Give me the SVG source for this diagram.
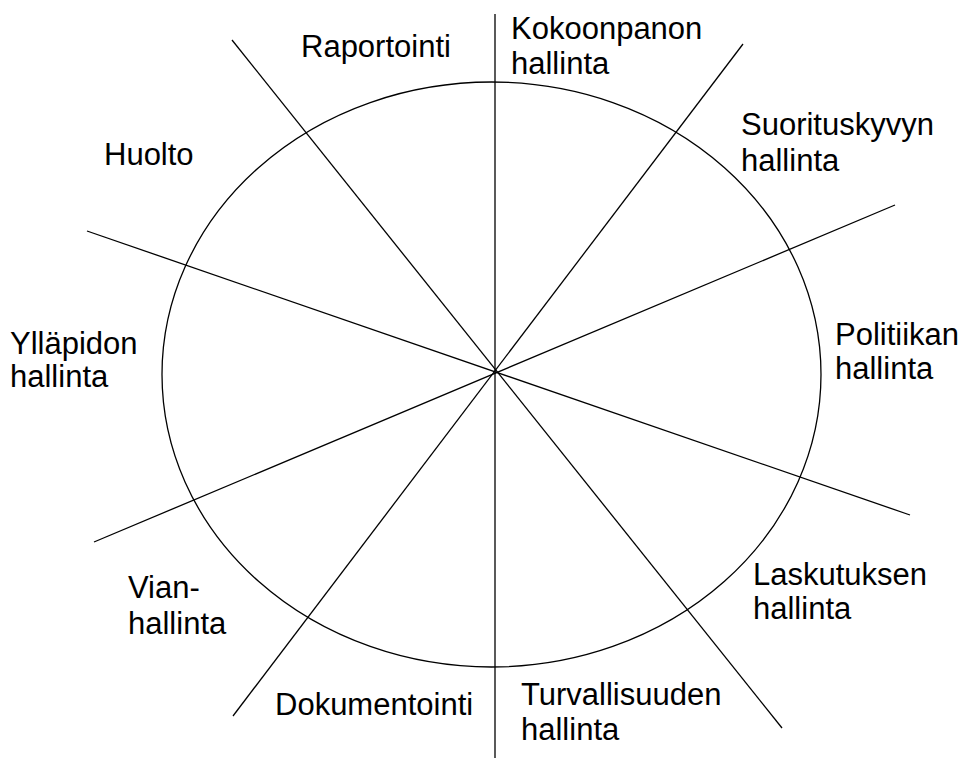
<svg xmlns="http://www.w3.org/2000/svg" width="966" height="758" viewBox="0 0 966 758">
<style>
.ln{stroke:#000;stroke-width:1.3;fill:none}
.t{font-family:"Liberation Sans",Arial,sans-serif;font-size:31px;fill:#000}
</style>
<rect width="966" height="758" fill="#fff"/>
<g id="connectors">
<ellipse id="circle" class="ln" cx="491.5" cy="374.5" rx="329.5" ry="292.5"/>
<line class="ln" x1="495" y1="14" x2="495" y2="758" stroke-width="2"/>
<line class="ln" x1="232" y1="40" x2="782" y2="728"/>
<line class="ln" x1="743" y1="44" x2="233" y2="716"/>
<line class="ln" x1="87" y1="231" x2="910" y2="515"/>
<line class="ln" x1="94" y1="542" x2="895" y2="205"/>
</g>
<g id="raportointi"><text class="t" x="301" y="57">Raportointi</text></g>
<g id="kokoonpanon"><text class="t" x="511" y="39">Kokoonpanon</text><text class="t" x="511" y="74">hallinta</text></g>
<g id="suorituskyvyn"><text class="t" x="741" y="135">Suorituskyvyn</text><text class="t" x="741" y="171">hallinta</text></g>
<g id="huolto"><text class="t" x="104" y="165">Huolto</text></g>
<g id="yllapidon"><text class="t" x="10" y="354">Ylläpidon</text><text class="t" x="10" y="387">hallinta</text></g>
<g id="politiikan"><text class="t" x="835" y="345">Politiikan</text><text class="t" x="835" y="379">hallinta</text></g>
<g id="vian"><text class="t" x="128" y="598">Vian-</text><text class="t" x="128" y="634">hallinta</text></g>
<g id="laskutuksen"><text class="t" x="753" y="585">Laskutuksen</text><text class="t" x="753" y="619">hallinta</text></g>
<g id="dokumentointi"><text class="t" x="275" y="715">Dokumentointi</text></g>
<g id="turvallisuuden"><text class="t" x="521" y="705">Turvallisuuden</text><text class="t" x="521" y="740">hallinta</text></g>
</svg>
